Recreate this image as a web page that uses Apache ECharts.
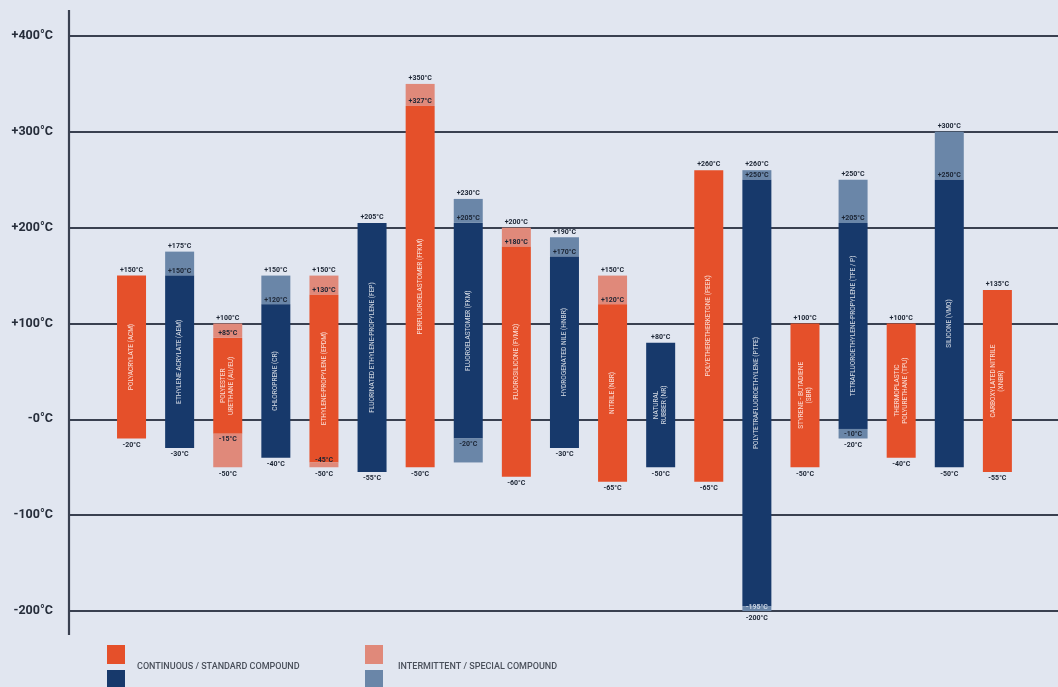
<!DOCTYPE html>
<html>
<head>
<meta charset="utf-8">
<script src="https://cdn.jsdelivr.net/npm/echarts@6/dist/echarts.min.js"></script>
<style>
html,body{margin:0;padding:0;background:#e1e6f0;}
#c{width:1058px;height:687px;}
</style>
</head>
<body>
<div id="c"></div>
<script>
// ---- data ----
const categories = [
  'POLYACRYLATE (ACM)',
  'ETHYLENE ACRYLATE (AEM)',
  'POLYESTER\nURETHANE (AU/EU)',
  'CHLOROPRENE (CR)',
  'ETHYLENE-PROPYLENE (EPDM)',
  'FLUORINATED ETHYLENE-PROPYLENE (FEP)',
  'PERFLUOROELASTOMER (FFKM)',
  'FLUOROELASTOMER (FKM)',
  'FLUOROSILICONE (FVMQ)',
  'HYDROGENATED NILE (HNBR)',
  'NITRILE (NBR)',
  'NATURAL\nRUBBER (NR)',
  'POLYETHERETHERKETONE (PEEK)',
  'POLYTETRAFLUOROETHYLENE (PTFE)',
  'STYRENE - BUTADIENE\n(SBR)',
  'TETRAFLUOROETHYLENE-PROPYLENE (TFE / P)',
  'THERMOPLASTIC\nPOLYURETHANE (TPU)',
  'SILICONE (VMQ)',
  'CARBOXYLATED NITRILE\n(XNBR)'
];
const contLow  = [-20, -30, -15, -40, -45, -55, -50, -20, -60, -30, -65, -50, -65, -195, -50, -10, -40, -50, -55];
const contHigh = [150, 150,  85, 120, 130, 205, 327, 205, 180, 170, 120,  80, 260,  250, 100, 205, 100, 250, 135];
const interLow  = [null, null, -50, null, -50, null, null, -45, null, null, null, null, null, -200, null, -20, null, null, null];
const interHigh = [null, 175, 100, 150, 150, null, 350, 230, 200, 190, 150, null, null, 260, null, 250, null, 300, null];
const unlabeledInterLow = [7]; // FKM lower intermittent limit carries no label
const yTicks = [-200, -100, 0, 100, 200, 300, 400];
const legendItems = ['CONTINUOUS / STANDARD COMPOUND', 'INTERMITTENT / SPECIAL COMPOUND'];

// ---- styles ----
const ORANGE = '#e5502a', NAVY = '#17396b', L_ORANGE = '#e0897a', L_NAVY = '#6a86a8';
const FONT = 'Roboto, "DejaVu Sans", sans-serif';
function fmt(v){ return (v > 0 ? '+' : '') + v + '°C'; }

const data = categories.map((c, i) => [
  i, contLow[i], contHigh[i],
  interLow[i] == null ? contLow[i] : interLow[i],
  interHigh[i] == null ? contHigh[i] : interHigh[i]
]);

function renderItem(params, api){
  const i = api.value(0);
  const cl = api.value(1), ch = api.value(2), il = api.value(3), ih = api.value(4);
  const W = 29;
  const pTop = api.coord([i, ih]), pCH = api.coord([i, ch]), pCL = api.coord([i, cl]), pBot = api.coord([i, il]);
  const x = pTop[0] - W/2;
  const even = i % 2 === 0;
  const main = even ? ORANGE : NAVY, light = even ? L_ORANGE : L_NAVY;
  const ch_ = [];
  const lab = (t, y, va, fill) => ({type:'text', style:{text:t, x:pTop[0], y:y, align:'center', verticalAlign:va,
      font:'bold 7px ' + FONT, fill:fill || '#1b2433'}, z2: 10});
  if (ih > ch) ch_.push({type:'rect', shape:{x:x, y:pTop[1], width:W, height:pCH[1]-pTop[1]}, style:{fill:light}});
  ch_.push({type:'rect', shape:{x:x, y:pCH[1], width:W, height:pCL[1]-pCH[1]}, style:{fill:main}});
  if (il < cl) ch_.push({type:'rect', shape:{x:x, y:pCL[1], width:W, height:pBot[1]-pCL[1]}, style:{fill:light}});
  // value labels
  ch_.push(lab(fmt(ih), pTop[1]-2, 'bottom'));
  if (ih > ch) ch_.push(lab(fmt(ch), pCH[1]-1, 'bottom'));
  let bottomOffset = 3;
  if (il < cl) {
    const strip = pBot[1] - pCL[1];
    if (strip >= 8) ch_.push(lab(fmt(cl), pCL[1]+2, 'top'));
    else if (even) ch_.push(lab(fmt(cl), pCL[1]+1, 'bottom'));
    else { ch_.push(lab(fmt(cl), pCL[1]-2, 'top', '#c9d3e2')); bottomOffset = 4; }
    if (unlabeledInterLow.indexOf(i) < 0) ch_.push(lab(fmt(il), pBot[1]+bottomOffset, 'top'));
  } else {
    ch_.push(lab(fmt(cl), pBot[1]+3, 'top'));
  }
  // name inside bar (rotated)
  ch_.push({type:'text', x:pTop[0], y:(pCH[1]+pCL[1])/2, rotation:Math.PI/2,
    style:{text:categories[i], x:0, y:0, align:'center', verticalAlign:'middle', font:'6.5px ' + FONT,
      fill:'rgba(255,255,255,0.82)', lineHeight:8}, z2: 10});
  return {type:'group', children:ch_};
}

const chart = echarts.init(document.getElementById('c'), null, {renderer:'canvas'});
chart.setOption({
  backgroundColor:'#e1e6f0',
  animation:false,
  grid:{left:69, right:0, top:36, bottom:76},
  xAxis:{type:'value', min:-1.30, max:19.26, show:false},
  yAxis:{type:'value', min:yTicks[0], max:yTicks[yTicks.length-1], interval:100,
    axisLine:{show:false}, axisTick:{show:false},
    splitLine:{lineStyle:{color:'#394050', width:2.2}},
    axisLabel:{margin:16, color:'#262d3a', fontFamily:FONT, fontWeight:'bold', fontSize:12.5,
      formatter:v => v > 0 ? '+' + v + '°C' : (v === 0 ? '-0°C' : v + '°C')}},
  series:[{type:'custom', renderItem:renderItem, data:data, clip:false}],
  graphic:[
    {type:'line', shape:{x1:69, y1:10, x2:69, y2:635}, style:{stroke:'#394050', lineWidth:2.2}},
    {type:'rect', shape:{x:107, y:645, width:18, height:19}, style:{fill:ORANGE}},
    {type:'rect', shape:{x:107, y:670, width:18, height:19}, style:{fill:NAVY}},
    {type:'text', x:137, y:667, style:{text:legendItems[0], verticalAlign:'middle', font:'500 9px ' + FONT, fill:'#4a505b'}},
    {type:'rect', shape:{x:365, y:645, width:18, height:19}, style:{fill:L_ORANGE}},
    {type:'rect', shape:{x:365, y:670, width:18, height:19}, style:{fill:L_NAVY}},
    {type:'text', x:398, y:667, style:{text:legendItems[1], verticalAlign:'middle', font:'500 9px ' + FONT, fill:'#4a505b'}}
  ]
});
</script>
</body>
</html>
